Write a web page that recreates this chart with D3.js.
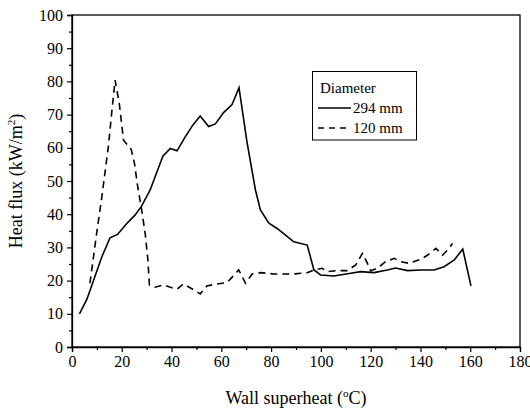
<!DOCTYPE html>
<html>
<head>
<meta charset="utf-8">
<script src="https://cdn.jsdelivr.net/npm/d3@7"></script>
<style>
  body { margin: 0; background: #fff; }
  text { font-family: "Liberation Serif", "Times New Roman", serif; fill: #000; }
</style>
</head>
<body>
<svg id="chart" width="530" height="413"></svg>
<script>
// axis ticks
var xTicks = [0, 20, 40, 60, 80, 100, 120, 140, 160, 180];
var yTicks = [0, 10, 20, 30, 40, 50, 60, 70, 80, 90, 100];

// 294 mm diameter (solid)
var d294x = [3, 6, 12, 15.3, 18.3, 22, 25.4, 28, 31.4, 36.5, 39.5, 42.2, 45.5, 48.6, 51.5, 54.9, 57.6, 60.9, 64.3, 67.1,
             70.3, 73.7, 75.7, 79.1, 82.4, 85.8, 89.1, 94.5, 97.2, 99.9, 105.2, 112, 116, 121.3, 126.7, 130, 134.8, 140.1,
             145.5, 149.5, 153.6, 157, 160.3];
var d294y = [10, 14.4, 27.2, 32.9, 33.9, 37.2, 39.8, 42.5, 47.3, 57.5, 59.8, 59.1, 63.3, 66.9, 69.6, 66.4, 67.2, 70.6, 73, 78.1,
             61.8, 47.3, 41.3, 37.3, 35.7, 33.7, 31.7, 30.7, 23.2, 21.7, 21.4, 22.2, 22.7, 22.4, 23.2, 23.8, 23, 23.2,
             23.2, 24.2, 26.2, 29.5, 18.4];

// 120 mm diameter (dashed)
var d120x = [7.2, 9.9, 12, 14.6, 16, 17.3, 19, 20.7, 23.8, 25.1, 26.3, 28, 29.4, 30.5, 31.1, 33.4, 36.8, 39.5, 42.2, 44.8,
             48.9, 51.5, 54.2, 58.3, 62.3, 67, 69.7, 72.4, 75.7, 81.1, 89.1, 94.5, 97.2, 100.5, 102.5, 106.6, 110.6, 114,
             116.7, 118.7, 120, 122.7, 126, 129.4, 132.1, 135.4, 140.1, 142.9, 146.2, 148.9, 150.9, 152.9];
var d120y = [19.2, 34.2, 45.3, 60.3, 70.9, 80.4, 73.4, 62.3, 59.5, 55.3, 48.8, 41.3, 34.2, 26.2, 18.7, 18, 18.7, 18, 17.4, 19,
             17.2, 16, 18.4, 19, 19.4, 23.2, 19.2, 22, 22.4, 22, 22, 22.4, 23.2, 23.7, 22.7, 23, 23, 24.7,
             28.2, 25.2, 23, 23.7, 25.7, 26.7, 25.7, 25.2, 26.4, 27.7, 29.7, 27.7, 29.2, 31.2];

var legendTitle = "Diameter";
var legendLabels = ["294 mm", "120 mm"];

var svg = d3.select("#chart");
var pLeft = 72, pRight = 520, pTop = 15, pBottom = 347;

var x = d3.scaleLinear().domain([0, 180]).range([pLeft, pRight]);
var y = d3.scaleLinear().domain([0, 100]).range([pBottom, pTop]);

// frame
svg.append("rect")
  .attr("x", pLeft).attr("y", pTop)
  .attr("width", pRight - pLeft).attr("height", pBottom - pTop)
  .attr("fill", "none").attr("stroke", "#000").attr("stroke-width", 1.3);

// minor ticks
svg.append("g")
  .attr("transform", "translate(0," + pBottom + ")")
  .call(d3.axisBottom(x).tickValues(d3.range(10, 180, 20)).tickSize(3).tickFormat(""))
  .call(function(g){ g.select(".domain").remove(); g.selectAll("line").attr("stroke-width", 1.2); });
svg.append("g")
  .attr("transform", "translate(" + pLeft + ",0)")
  .call(d3.axisLeft(y).tickValues(d3.range(5, 100, 10)).tickSize(3).tickFormat(""))
  .call(function(g){ g.select(".domain").remove(); g.selectAll("line").attr("stroke-width", 1.2); });

// major ticks
var xAxis = svg.append("g")
  .attr("transform", "translate(0," + pBottom + ")")
  .call(d3.axisBottom(x).tickValues(xTicks).tickSize(5).tickPadding(4));
xAxis.select(".domain").attr("stroke-width", 1.3);
xAxis.selectAll("line").attr("stroke-width", 1.2);
xAxis.selectAll("text").attr("font-size", 16).style("font-family", "Liberation Serif");

var yAxis = svg.append("g")
  .attr("transform", "translate(" + pLeft + ",0)")
  .call(d3.axisLeft(y).tickValues(yTicks).tickSize(5).tickPadding(4));
yAxis.select(".domain").attr("stroke-width", 1.3);
yAxis.selectAll("line").attr("stroke-width", 1.2);
yAxis.selectAll("text").attr("font-size", 16).style("font-family", "Liberation Serif");

// axis titles
var xt = svg.append("text")
  .attr("x", (pLeft + pRight) / 2).attr("y", 404)
  .attr("text-anchor", "middle").attr("font-size", 18);
xt.append("tspan").text("Wall superheat (");
xt.append("tspan").attr("font-size", 11).attr("dy", -7).text("o");
xt.append("tspan").attr("dy", 7).text("C)");

var yt = svg.append("text")
  .attr("transform", "translate(22,181) rotate(-90)")
  .attr("text-anchor", "middle").attr("font-size", 18);
yt.append("tspan").text("Heat flux (kW/m");
yt.append("tspan").attr("font-size", 11).attr("dy", -7).text("2");
yt.append("tspan").attr("dy", 7).text(")");

// data lines
var line = d3.line().x(function(d){ return x(d[0]); }).y(function(d){ return y(d[1]); });

svg.append("path")
  .datum(d3.zip(d294x, d294y))
  .attr("d", line)
  .attr("fill", "none").attr("stroke", "#000").attr("stroke-width", 1.6);

svg.append("path")
  .datum(d3.zip(d120x, d120y))
  .attr("d", line)
  .attr("fill", "none").attr("stroke", "#000").attr("stroke-width", 1.6)
  .attr("stroke-dasharray", "7,5");

// legend
var lg = svg.append("g");
lg.append("rect")
  .attr("x", 312.5).attr("y", 71.5).attr("width", 104).attr("height", 68.5)
  .attr("fill", "#fff").attr("stroke", "#000").attr("stroke-width", 1);
lg.append("text").attr("x", 320).attr("y", 93).attr("font-size", 15).text(legendTitle);
legendLabels.forEach(function(lab, i){
  var ly = 108 + i * 20;
  lg.append("line")
    .attr("x1", 318).attr("x2", 351).attr("y1", ly).attr("y2", ly)
    .attr("stroke", "#000").attr("stroke-width", 1.4)
    .attr("stroke-dasharray", i == 1 ? "6,5" : null);
  lg.append("text").attr("x", 353).attr("y", ly + 5).attr("font-size", 15).text(lab);
});
</script>
</body>
</html>
